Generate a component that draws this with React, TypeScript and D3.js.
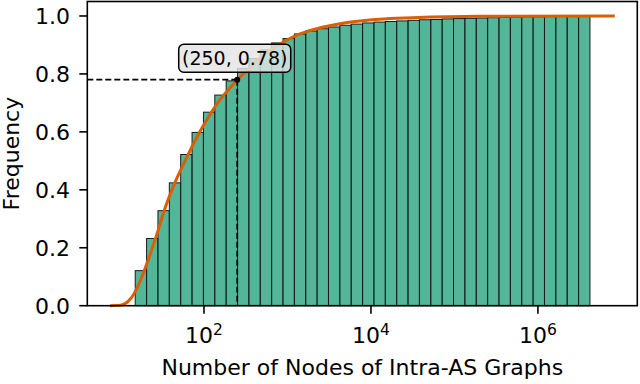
import React from 'react';
import * as d3 from 'd3';

// histogram of node counts, log-spaced bins between these two edges
const binMin = 15;
const binMax = 4.2e6;

// cumulative frequency per bin
const cumFreq = [
  0.121, 0.232, 0.328, 0.424, 0.522, 0.598, 0.668, 0.727, 0.776, 0.819,
  0.853, 0.883, 0.907, 0.922, 0.938, 0.948, 0.956, 0.962, 0.968, 0.972,
  0.976, 0.979, 0.981, 0.983, 0.985, 0.987, 0.988, 0.99, 0.991, 0.992,
  0.993, 0.994, 0.995, 0.996, 0.997, 0.997, 0.998, 0.999, 0.999, 1.0,
];

// smooth CDF curve
const fitX = [
  7.5, 10, 12, 14.1, 16.6, 19.5, 23.4, 28.2, 33.1, 44.7, 61.7, 85.1, 115, 158,
  214, 250, 316, 447, 631, 891, 1410, 2510, 5010, 12600, 31600, 200000, 8320000,
];
const fitY = [
  0, 0.002, 0.012, 0.035, 0.075, 0.125, 0.19, 0.26, 0.325, 0.424, 0.51, 0.59, 0.655, 0.714,
  0.758, 0.78, 0.808, 0.85, 0.882, 0.91, 0.938, 0.96, 0.977, 0.989, 0.994, 0.999, 1.0,
];

const annX = 250;
const annY = 0.78;
const annLabel = '(250, 0.78)';

const xTickExps = [2, 4, 6];
const yTicks = [0, 0.2, 0.4, 0.6, 0.8, 1.0];

const font = 'DejaVu Sans';

export default function App() {
  const width = 640;
  const height = 384;
  const margin = { top: 1.5, right: 2.7, bottom: 78.3, left: 87.3 };
  const x0 = margin.left;
  const x1 = width - margin.right;
  const y0 = height - margin.bottom;
  const y1 = margin.top;

  const x = d3.scaleLog().domain([4.0, 1.55e7]).range([x0, x1]);
  const y = d3.scaleLinear().domain([0, 1.05]).range([y0, y1]);

  const n = cumFreq.length;
  const edges = d3.range(n + 1).map((i) => binMin * Math.pow(binMax / binMin, i / n));

  const line = d3
    .line<number>()
    .x((_, i) => x(fitX[i]))
    .y((d) => y(d))
    .curve(d3.curveMonotoneX);

  const px = x(annX);
  const py = y(annY);

  return (
    <svg width={width} height={height} style={{ position: 'absolute', left: 0, top: 0, background: '#fff' }}>
      {/* bars */}
      <g>
        {cumFreq.map((f, i) => (
          <rect
            key={i}
            x={x(edges[i])}
            y={y(f)}
            width={x(edges[i + 1]) - x(edges[i])}
            height={y(0) - y(f)}
            fill="#1b9e77"
            fillOpacity={0.75}
            stroke="#1a1a1a"
            strokeWidth={1}
          />
        ))}
      </g>

      {/* dashed guides */}
      <line x1={x0} x2={px} y1={py} y2={py} stroke="#000" strokeWidth={1.8} strokeDasharray="6,3" />
      <line x1={px} x2={px} y1={py} y2={y0} stroke="#000" strokeWidth={1.8} strokeDasharray="6,3" />

      {/* CDF curve */}
      <path d={line(fitY) || ''} fill="none" stroke="#d95f02" strokeWidth={3} />

      <circle cx={px} cy={py} r={3} fill="#000" />

      {/* annotation */}
      <g transform={`translate(${px - 2.5}, ${py - 21.5})`}>
        <rect x={-56} y={-14} width={112} height={28} rx={5} fill="#e4e4e4" fillOpacity={0.82} stroke="#000" strokeWidth={1.5} />
        <text textAnchor="middle" dy="0.36em" fontFamily={font} fontSize={19} fill="#000">
          {annLabel}
        </text>
      </g>

      {/* spines */}
      <rect x={x0} y={y1} width={x1 - x0} height={y0 - y1} fill="none" stroke="#000" strokeWidth={1.6} />

      {/* y axis */}
      {yTicks.map((t) => (
        <g key={t}>
          <line x1={x0 - 8} x2={x0} y1={y(t)} y2={y(t)} stroke="#000" strokeWidth={1.6} />
          <text x={70} y={y(t)} dy="0.36em" textAnchor="end" fontFamily={font} fontSize={22} fill="#000">
            {t.toFixed(1)}
          </text>
        </g>
      ))}

      {/* x axis */}
      {xTickExps.map((e) => (
        <g key={e}>
          <line x1={x(10 ** e)} x2={x(10 ** e)} y1={y0} y2={y0 + 8} stroke="#000" strokeWidth={1.6} />
          <text x={x(10 ** e)} y={343} textAnchor="middle" fontFamily={font} fontSize={22} fill="#000">
            <tspan>10</tspan>
            <tspan dy={-8} fontSize={15.5}>{e}</tspan>
          </text>
        </g>
      ))}

      <text x={(x0 + x1) / 2} y={375} textAnchor="middle" fontFamily={font} fontSize={22} fill="#000">
        Number of Nodes of Intra-AS Graphs
      </text>
      <text
        transform={`translate(19, ${(y0 + y1) / 2}) rotate(-90)`}
        textAnchor="middle"
        fontFamily={font}
        fontSize={22}
        fill="#000"
      >
        Frequency
      </text>
    </svg>
  );
}
